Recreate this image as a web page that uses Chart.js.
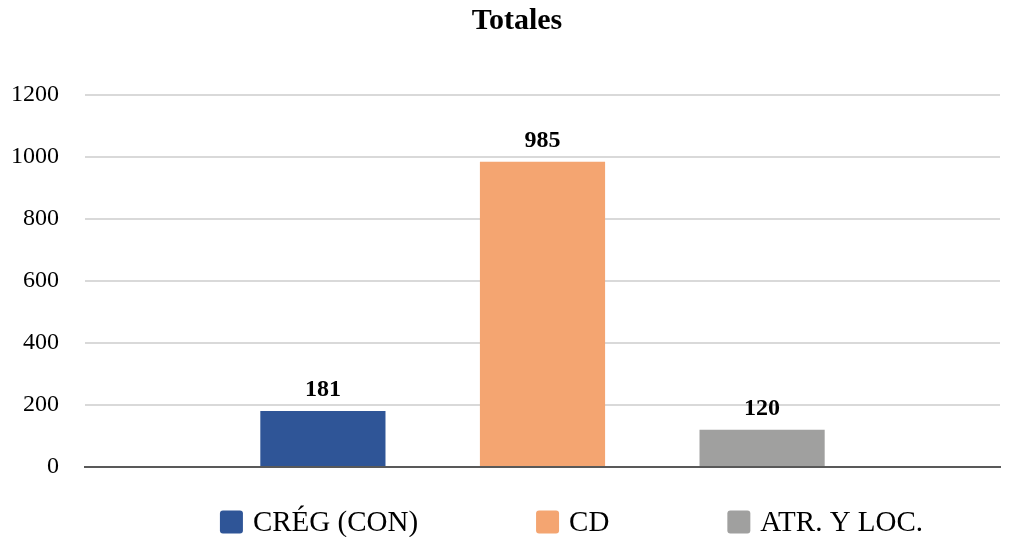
<!DOCTYPE html>
<html>
<head>
<meta charset="utf-8">
<script src="https://cdn.jsdelivr.net/npm/chart.js@4/dist/chart.umd.min.js"></script>
<style>
  html, body { margin: 0; padding: 0; background: #fff; }
  #wrap { width: 1016px; height: 537px; }
</style>
</head>
<body>
<div id="wrap"><canvas id="bar-chart"></canvas></div>
<script>
const categories = ['CRÉG (CON)', 'CD', 'ATR. Y LOC.'];
const totals = [181, 985, 120];
const colors = ['#2F5597', '#F4A571', '#A0A09F'];
const yTicks = [0, 200, 400, 600, 800, 1000, 1200];

const serif = "'Liberation Serif', 'DejaVu Serif', serif";

// one dataset per series so each bar sits side by side in a single group
const datasets = categories.map(function(name, i){
  return {
    label: name,
    data: [totals[i]],
    backgroundColor: colors[i],
    borderWidth: 0,
    barPercentage: 0.57,
    categoryPercentage: 0.72
  };
});

// bold value over each bar
const valueLabels = {
  id: 'valueLabels',
  afterDatasetsDraw(chart){
    const ctx = chart.ctx;
    ctx.save();
    ctx.font = "bold 24px " + serif;
    ctx.fillStyle = '#000';
    ctx.textAlign = 'center';
    ctx.textBaseline = 'alphabetic';
    chart.data.datasets.forEach(function(ds, i){
      const bar = chart.getDatasetMeta(i).data[0];
      ctx.fillText(ds.data[0], bar.x, bar.y - 15);
    });
    ctx.restore();
  }
};

// y labels stick out past the left padding, so widen their clip box
const unclipTicks = {
  id: 'unclipTicks',
  afterLayout(chart){ chart.scales.y.left = 0; }
};

// legend drawn by hand: wide spacing between items
const bottomLegend = {
  id: 'bottomLegend',
  afterDraw(chart){
    const ctx = chart.ctx;
    const box = 23, gap = 118, textGap = 10;
    ctx.save();
    ctx.font = "29px " + serif;
    const items = chart.data.datasets.map(function(ds){
      return { label: ds.label, color: ds.backgroundColor, w: ctx.measureText(ds.label).width };
    });
    let total = 0;
    items.forEach(function(it, i){ total += box + textGap + it.w + (i ? gap : 0); });
    const area = chart.chartArea;
    let x = (area.left + area.right) / 2 + 29 - total / 2;
    const y = 522;
    ctx.textBaseline = 'middle';
    ctx.textAlign = 'left';
    items.forEach(function(it){
      ctx.fillStyle = it.color;
      ctx.beginPath();
      ctx.roundRect(x, y - box / 2, box, box, 3);
      ctx.fill();
      ctx.fillStyle = '#000';
      ctx.fillText(it.label, x + box + textGap, y + 1);
      x += box + textGap + it.w + gap;
    });
    ctx.restore();
  }
};

const config = {
  type: 'bar',
  data: { labels: [''], datasets: datasets },
  options: {
    responsive: true,
    maintainAspectRatio: false,
    animation: false,
    layout: { padding: { left: 34, right: 16, top: 0, bottom: 70 } },
    plugins: {
      legend: { display: false },
      tooltip: { enabled: false },
      title: {
        display: true,
        text: 'Totales',
        color: '#000',
        font: { family: serif, size: 30, weight: 'bold' },
        padding: { top: 3, bottom: 56 }
      }
    },
    scales: {
      x: {
        ticks: { display: false },
        grid: { display: false, drawTicks: false },
        border: { display: true, color: '#595959', width: 2 }
      },
      y: {
        min: 0,
        max: 1200,
        afterBuildTicks(axis){ axis.ticks = yTicks.map(function(v){ return { value: v }; }); },
        afterFit(axis){ axis.width = 51; },
        ticks: {
          color: '#000',
          padding: 26,
          font: { family: serif, size: 24 },
          callback: function(v){ return String(v); }
        },
        grid: { color: '#D9D9D9', lineWidth: 2, drawTicks: false },
        border: { display: false }
      }
    }
  },
  plugins: [unclipTicks, valueLabels, bottomLegend]
};

const myChart = new Chart(document.getElementById('bar-chart'), config);
</script>
</body>
</html>
